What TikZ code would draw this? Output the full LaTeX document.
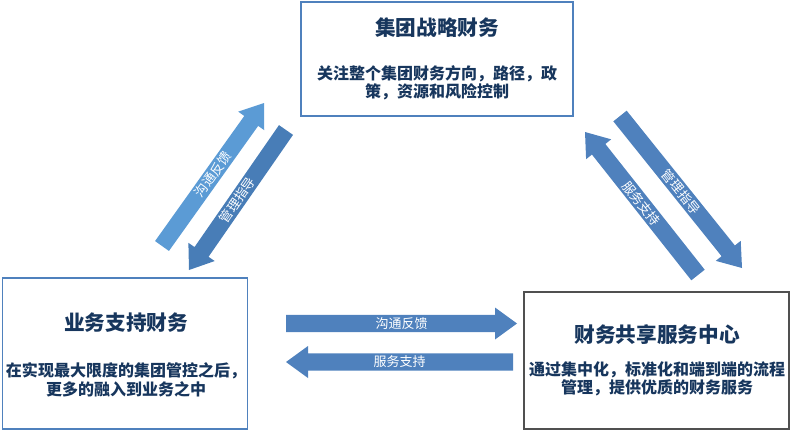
\documentclass[tikz,border=0pt]{standalone}
\usepackage{fontspec}
\setmainfont{Noto Sans CJK SC}
\usetikzlibrary{calc}
\definecolor{navy}{RGB}{23,54,93}
\definecolor{boxblue}{RGB}{79,129,189}
\definecolor{boxgray}{RGB}{80,80,80}
\definecolor{arrowblue}{RGB}{79,129,189}
\definecolor{lightarrow}{RGB}{91,155,213}
\definecolor{darkarrow}{RGB}{72,125,183}
\tikzset{
  box/.style={draw=#1, line width=0.8pt, fill=white, inner sep=0pt},
  titletext/.style={text=navy, font=\fontsize{15.5pt}{18pt}\selectfont\bfseries, inner sep=0pt},
  bodytext/.style={text=navy, font=\fontsize{12pt}{13.8pt}\selectfont\bfseries, align=center, inner sep=0pt},
  arrowtext/.style={text=white, font=\fontsize{9.75pt}{11pt}\selectfont, inner sep=0pt},
}
% #1 tail, #2 tip, #3 colour, #4 label, #5 label node name
\newcommand\blockarrow[5]{%
  \coordinate (#2-base) at ($(#2)!16.5pt!(#1)$);
  \fill[#3] ($(#1)!6.4pt!90:(#2)$) -- ($(#2-base)!6.4pt!-90:(#1)$)
     -- ($(#2-base)!12pt!-90:(#1)$) -- (#2)
     -- ($(#2-base)!12pt!90:(#1)$) -- ($(#2-base)!6.4pt!90:(#1)$)
     -- ($(#1)!6.4pt!-90:(#2)$) -- cycle;
  \path (#1) -- (#2) node[midway, sloped, arrowtext] (#5) {#4};
}
\begin{document}
\begin{tikzpicture}[x=0.75pt,y=-0.75pt]
\useasboundingbox (0,0) rectangle (791,432);

% boxes
\node[box=boxblue, minimum width=204pt, minimum height=85.5pt] (topbox) at (437,59) {};
\node[box=boxblue, minimum width=184pt, minimum height=113.25pt] (leftbox) at (125.25,353.5) {};
\node[box=boxgray, minimum width=198.75pt, minimum height=102.75pt] (rightbox) at (656.5,360.5) {};

% texts
\node[titletext] (toptitle) at (437,28) {集团战略财务};
\node[bodytext] (topbody) at (437,83) {关注整个集团财务方向，路径，政\\策，资源和风险控制};
\node[titletext] (lefttitle) at (126,323) {业务支持财务};
\node[bodytext] (leftbody) at (126,380) {在实现最大限度的集团管控之后，\\更多的融入到业务之中};
\node[titletext] (righttitle) at (657,335) {财务共享服务中心};
\node[bodytext] (rightbody) at (657,379) {通过集中化，标准化和端到端的流程\\管理，提供优质的财务服务};

% arrow end points
\coordinate (a1t) at (162,246); \coordinate (a1h) at (264,103);
\coordinate (a2t) at (286,130); \coordinate (a2h) at (189,270);
\coordinate (a3t) at (620,116); \coordinate (a3h) at (742,268);
\coordinate (a4t) at (698,275); \coordinate (a4h) at (585,132);
\coordinate (a5t) at (286,323.5); \coordinate (a5h) at (517,323.5);
\coordinate (a6t) at (513,362); \coordinate (a6h) at (286,362);

\blockarrow{a1t}{a1h}{lightarrow}{沟通反馈}{l1}
\blockarrow{a2t}{a2h}{darkarrow}{管理指导}{l2}
\blockarrow{a3t}{a3h}{arrowblue}{管理指导}{l3}
\blockarrow{a4t}{a4h}{arrowblue}{服务支持}{l4}
\blockarrow{a5t}{a5h}{arrowblue}{沟通反馈}{l5}
\blockarrow{a6t}{a6h}{arrowblue}{服务支持}{l6}
\end{tikzpicture}
\end{document}
